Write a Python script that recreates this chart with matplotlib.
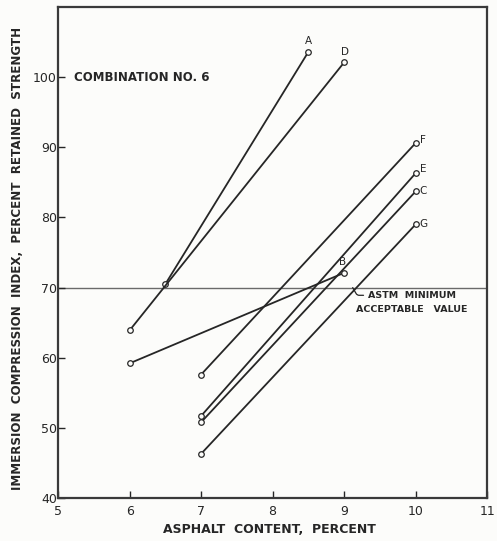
import matplotlib.pyplot as plt

# asphalt content (percent) vs immersion compression index for each mix
names = ["A", "B", "C", "D", "E", "F", "G"]
asphalt = {
    "A": [6.5, 8.5],
    "B": [6, 9],
    "C": [7, 10],
    "D": [6, 9],
    "E": [7, 10],
    "F": [7, 10],
    "G": [7, 10],
}
index = {
    "A": [70.5, 103.6],
    "B": [59.2, 72.1],
    "C": [50.8, 83.7],
    "D": [63.9, 102.1],
    "E": [51.7, 86.3],
    "F": [57.6, 90.6],
    "G": [46.3, 79.0],
}
astm_min = 70
x_ticks = [5, 6, 7, 8, 9, 10, 11]
y_ticks = [40, 50, 60, 70, 80, 90, 100]

# label offsets in points (dx, dy) next to the last point
label_off = {
    "A": (0, 4), "B": (-1, 4), "C": (3, 0), "D": (1, 4),
    "E": (3, 3), "F": (3, 2), "G": (3, 0),
}

ink = "#262626"
paper = "#fcfcfa"

fig = plt.figure(figsize=(4.97, 5.41), dpi=100, facecolor=paper)
ax = fig.add_axes([0.117, 0.0795, 0.863, 0.9075], facecolor=paper)

ax.axhline(astm_min, color="#6a6a6a", lw=1.0, zorder=1)

for n in names:
    ax.plot(asphalt[n], index[n], color=ink, lw=1.3, marker="o", ms=4,
            mfc=paper, mec=ink, mew=0.9, zorder=3)
    dx, dy = label_off[n]
    ha = "center" if dy > 2 and dx < 2 else "left"
    ax.annotate(n, (asphalt[n][-1], index[n][-1]), xytext=(dx, dy),
                textcoords="offset points", ha=ha,
                va="bottom" if ha == "center" else "center",
                fontsize=7.5, color=ink)

ax.text(5.22, 100, "COMBINATION NO. 6", fontsize=8.5, fontweight="bold",
        color=ink, va="center", ha="left")

# ASTM note with a small leader down from the 70 line
ax.annotate("ASTM  MINIMUM", xy=(9.12, astm_min), xytext=(9.33, 68.9),
            fontsize=6.8, fontweight="bold", color=ink, ha="left",
            va="center",
            arrowprops=dict(arrowstyle="-", color=ink, lw=0.9,
                            shrinkA=1, shrinkB=0,
                            connectionstyle="angle,angleA=180,angleB=-60,rad=2"))
ax.text(9.17, 66.9, "ACCEPTABLE   VALUE", fontsize=6.8, fontweight="bold",
        color=ink, ha="left", va="center")

ax.set_xlim(5, 11)
ax.set_ylim(40, 110)
ax.set_xticks(x_ticks)
ax.set_yticks(y_ticks)
ax.tick_params(direction="in", length=5, width=1.0, colors=ink,
               labelsize=9)
ax.tick_params(axis="y", pad=1)
ax.tick_params(axis="x", pad=5)
for s in ax.spines.values():
    s.set_linewidth(1.6)
    s.set_color("#3a3a3a")

fig.text(0.543, 0.022, "ASPHALT  CONTENT,  PERCENT", fontsize=9,
         fontweight="bold", color=ink, ha="center", va="center")
fig.text(0.036, 0.523,
         "IMMERSION  COMPRESSION  INDEX,  PERCENT  RETAINED  STRENGTH",
         fontsize=8.6, fontweight="bold", color=ink, rotation=90,
         ha="center", va="center")

fig.savefig("out.png", dpi=100, facecolor=paper)
